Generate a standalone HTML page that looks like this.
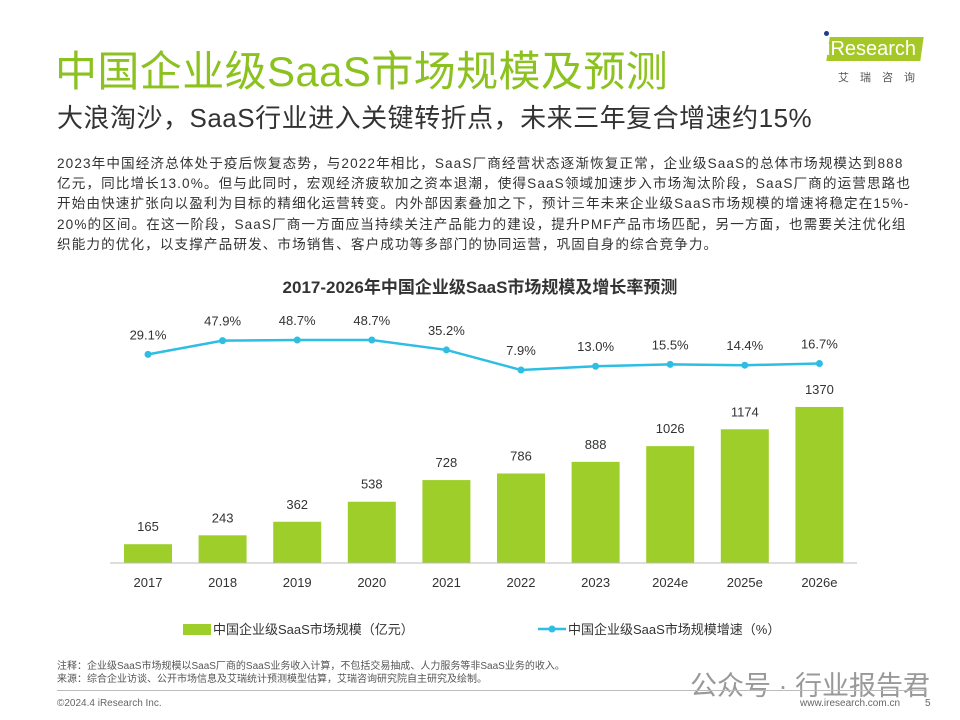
<!DOCTYPE html>
<html><head><meta charset="utf-8"><style>
body{margin:0;width:960px;height:720px;background:#fff;font-family:"Liberation Sans","Noto Sans CJK SC",sans-serif;position:relative;overflow:hidden;color:#333}
.abs{position:absolute;white-space:nowrap}
.desc div{white-space:nowrap;height:20.2px}
</style></head><body>
<div class="abs" style="left:55px;top:38px;font-size:42px;color:#8cc21f;letter-spacing:0.4px">中国企业级SaaS市场规模及预测</div>
<div class="abs" style="left:57px;top:98px;font-size:26px;color:#333;letter-spacing:0.5px">大浪淘沙，SaaS行业进入关键转折点，未来三年复合增速约15%</div>
<div style="position:absolute;left:824px;top:33px;width:100px;height:30px">
 <div style="position:absolute;left:4px;top:4px;width:94px;height:24px;background:#a5c826;transform:skewX(-8deg)"></div>
 <div style="position:absolute;left:0;top:-2px;width:5px;height:5px;border-radius:50%;background:#1f3d8a"></div>
 <div class="abs" style="left:2px;top:5px;font-size:20px;color:#fff">iResearch</div>
 <div class="abs" style="left:14px;top:36px;font-size:11px;color:#555;letter-spacing:11px">艾瑞咨询</div>
</div>
<div class="desc" style="position:absolute;left:57px;top:154px;font-size:13.6px;line-height:20.2px;color:#333;letter-spacing:1.1px">
<div>2023年中国经济总体处于疫后恢复态势，与2022年相比，SaaS厂商经营状态逐渐恢复正常，企业级SaaS的总体市场规模达到888</div>
<div>亿元，同比增长13.0%。但与此同时，宏观经济疲软加之资本退潮，使得SaaS领域加速步入市场淘汰阶段，SaaS厂商的运营思路也</div>
<div>开始由快速扩张向以盈利为目标的精细化运营转变。内外部因素叠加之下，预计三年未来企业级SaaS市场规模的增速将稳定在15%-</div>
<div>20%的区间。在这一阶段，SaaS厂商一方面应当持续关注产品能力的建设，提升PMF产品市场匹配，另一方面，也需要关注优化组</div>
<div>织能力的优化，以支撑产品研发、市场销售、客户成功等多部门的协同运营，巩固自身的综合竞争力。</div>
</div>
<div class="abs" style="left:0;width:960px;text-align:center;top:273px;font-size:17px;font-weight:bold;color:#333">2017-2026年中国企业级SaaS市场规模及增长率预测</div>
<svg id="chart" width="960" height="720" style="position:absolute;left:0;top:0"></svg>
<div class="abs" style="left:57px;top:660px;font-size:10px;color:#555;line-height:13px">注释：企业级SaaS市场规模以SaaS厂商的SaaS业务收入计算，不包括交易抽成、人力服务等非SaaS业务的收入。<br>来源：综合企业访谈、公开市场信息及艾瑞统计预测模型估算，艾瑞咨询研究院自主研究及绘制。</div>
<div class="abs" style="left:690px;top:664px;font-size:27px;color:#999">公众号 · 行业报告君</div>
<div style="position:absolute;left:57px;top:690px;width:870px;height:1px;background:#bbb"></div>
<div class="abs" style="left:57px;top:698px;font-size:10px;color:#666">©2024.4 iResearch Inc.</div>
<div class="abs" style="left:800px;top:698px;font-size:10px;color:#666">www.iresearch.com.cn</div>
<div class="abs" style="left:925px;top:698px;font-size:10px;color:#666">5</div>
<script>
const categories=["2017","2018","2019","2020","2021","2022","2023","2024e","2025e","2026e"];
const marketSize=[165,243,362,538,728,786,888,1026,1174,1370];
const growthRate=[29.1,47.9,48.7,48.7,35.2,7.9,13.0,15.5,14.4,16.7];
const NS="http://www.w3.org/2000/svg";
const svg=document.getElementById("chart");
function x(i){return 148+i*74.6;}
function yBar(v){return 563-v*0.1139;}
function yLine(v){return 340+(48.7-v)*0.735;}
function mk(t,a,txt){const e=document.createElementNS(NS,t);for(const k in a)e.setAttribute(k,a[k]);if(txt!==undefined)e.textContent=txt;svg.appendChild(e);return e;}
categories.forEach((c,i)=>{
 const b=mk("rect",{x:x(i)-24,y:yBar(marketSize[i]),width:48,height:563-yBar(marketSize[i]),fill:"#9dce2a"});
 
 
 const l=mk("text",{x:x(i),y:yBar(marketSize[i])-13,"text-anchor":"middle","font-size":13,fill:"#333"},String(marketSize[i]));
 
 
 const t=mk("text",{x:x(i),y:587,"text-anchor":"middle","font-size":13,fill:"#333"},c);
 
 
});
const ax=mk("line",{x1:110,x2:857,y1:563,y2:563,stroke:"#bbb","stroke-width":1});


const pts=growthRate.map((v,i)=>x(i)+","+yLine(v)).join(" ");
const pl=mk("polyline",{points:pts,fill:"none",stroke:"#2ebde3","stroke-width":2.5});


growthRate.forEach((v,i)=>{
 const p=mk("circle",{cx:x(i),cy:yLine(v),r:3.5,fill:"#2ebde3"});
 
 
 const t=mk("text",{x:x(i),y:yLine(v)-15,"text-anchor":"middle","font-size":13,fill:"#333"},v.toFixed(1)+"%");
 
 
});
const lg1=mk("rect",{x:183,y:624,width:28,height:11,fill:"#9dce2a"});


const lt1=mk("text",{x:213,y:634,"font-size":13,fill:"#333"},"中国企业级SaaS市场规模（亿元）");


const lg2=mk("line",{x1:538,x2:566,y1:629,y2:629,stroke:"#2ebde3","stroke-width":2.5});


const lc=mk("circle",{cx:552,cy:629,r:3.5,fill:"#2ebde3"});


const lt2=mk("text",{x:568,y:634,"font-size":13,fill:"#333"},"中国企业级SaaS市场规模增速（%）");


</script>
</body></html>
